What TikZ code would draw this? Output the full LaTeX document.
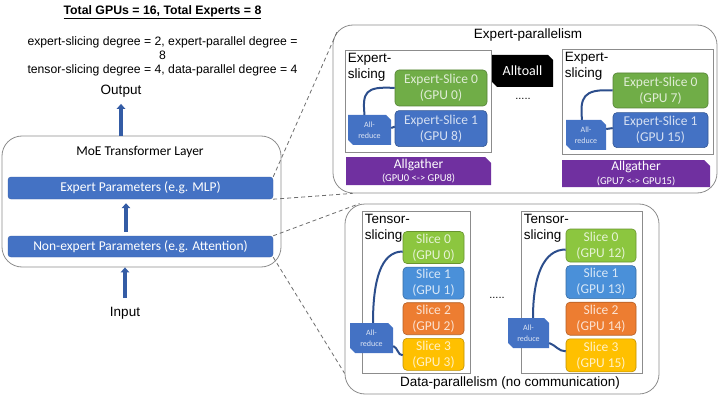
\documentclass[tikz,border=0pt]{standalone}
\usepackage{fontspec}
\setmainfont{Liberation Sans}
\newfontfamily\calibri{Carlito}
\usetikzlibrary{arrows.meta, positioning, calc}

\definecolor{barblue}{RGB}{68,114,196}
\definecolor{arrblue}{RGB}{52,92,165}
\definecolor{ringblue}{RGB}{44,78,140}
\definecolor{boxgray}{RGB}{140,140,140}
\definecolor{dashgray}{RGB}{110,110,110}
\definecolor{exgreen}{RGB}{112,173,71}
\definecolor{slgreen}{RGB}{140,198,63}
\definecolor{slblue}{RGB}{74,144,217}
\definecolor{slorange}{RGB}{237,125,49}
\definecolor{slyellow}{RGB}{255,192,0}
\definecolor{agpurple}{RGB}{112,48,160}

\tikzset{
  lbl/.style={font=\fontsize{13.5}{16}\selectfont, inner sep=1pt},
  grpbox/.style={draw=boxgray, line width=0.8pt, rounded corners=20pt},
  slicebox/.style={draw=boxgray, line width=0.8pt},
  bar/.style={fill=barblue, draw=barblue!85!black, rounded corners=3pt, text=white,
    font=\calibri\fontsize{13.5}{16}\selectfont, minimum width=265, minimum height=22, inner sep=0pt},
  gpu/.style={fill=#1, draw=#1!75!black, line width=0.6pt, text=white!78!#1, rounded corners=4pt,
    align=center, font=\calibri\fontsize{13.5}{16}\selectfont, inner sep=0pt},
  % box with the top right and bottom left corners cut off
  cuttwo/.style={path picture={\fill[#1] (path picture bounding box.north west)
    -- ([xshift=-5pt]path picture bounding box.north east) -- ([yshift=-5pt]path picture bounding box.north east)
    -- (path picture bounding box.south east) -- ([xshift=5pt]path picture bounding box.south west)
    -- ([yshift=5pt]path picture bounding box.south west) -- cycle;}},
  % box with the top right corner cut off
  cutone/.style={path picture={\fill[#1] (path picture bounding box.north west)
    -- ([xshift=-6pt]path picture bounding box.north east) -- ([yshift=-6pt]path picture bounding box.north east)
    -- (path picture bounding box.south east) -- (path picture bounding box.south west) -- cycle;}},
  allred/.style={cuttwo=barblue, text=white!82!barblue, align=center,
    font=\calibri\fontsize{8}{11}\selectfont, inner sep=0pt, minimum width=43, minimum height=30},
  allgat/.style={cutone=agpurple, text=white, align=center,
    font=\calibri\fontsize{10.5}{13.5}\selectfont, inner sep=0pt, minimum height=28},
  ringline/.style={draw=ringblue, line width=2pt},
  uparrow/.style={draw=arrblue, line width=3.3pt, -{Triangle[width=8.5pt,length=5pt]}},
  zoomline/.style={draw=dashgray, line width=0.8pt, dash pattern=on 4pt off 3pt}
}

\begin{document}
\begin{tikzpicture}[x=1pt,y=-1pt]
\useasboundingbox (0,0) rectangle (720,401);

% settings
\node[font=\fontsize{12.3}{14}\selectfont\bfseries] (total) at (162.5,12) {\underline{Total GPUs = 16, Total Experts = 8}};
\node[font=\fontsize{12.2}{14}\selectfont, align=center] (degrees) at (162.5,56) {expert-slicing degree = 2, expert-parallel degree =\\8\\tensor-slicing degree = 4, data-parallel degree = 4};

% MoE layer
\node[grpbox, minimum width=279, minimum height=131] (moe) at (141.5,201.5) {};
\node[font=\calibri\fontsize{13.5}{16}\selectfont] (moetitle) at (140,152) {MoE Transformer Layer};
\node[bar] (expbar) at (140.5,188) {Expert Parameters (e.g. MLP)};
\node[bar, minimum height=21] (nonexp) at (140.5,246.5) {Non-expert Parameters (e.g. Attention)};
\node[lbl] (output) at (121,91) {Output};
\node[lbl] (input) at (125,313) {Input};
\draw[uparrow] (output.south |- moe.north) -- ([yshift=-5.6pt]output.south);
\draw[uparrow, shorten <=4pt, shorten >=4pt] ([xshift=-14.5pt]nonexp.north) -- ([xshift=-14.5pt]expbar.south);
\draw[uparrow] ([yshift=7.6pt]input.north) -- (input.north |- moe.south);

% expert-parallelism
\node[grpbox, minimum width=384, minimum height=168] (ep) at (525,109) {};
\node[lbl] (eptitle) at (528,35) {Expert-parallelism};

\node[slicebox, minimum width=146, minimum height=102] (esL) at (418,101) {};
\node[lbl, anchor=north west, align=left, inner sep=3pt] (esLtxt) at (esL.north west) {Expert-\\slicing};
\node[gpu=exgreen, minimum width=92, minimum height=36] (es0L) at (441,88) {Expert-Slice 0\\(GPU 0)};
\node[gpu=barblue, minimum width=92, minimum height=36, below=4pt of es0L] (es1L) {Expert-Slice 1\\(GPU 8)};
\node[allred] (arL) at (369.5,130) {All-\\reduce};
\draw[ringline] (es0L.west) .. controls +(-30,-2) and +(-2,-22) .. ([xshift=-5pt]arL.north);
\draw[ringline] ([yshift=2pt]arL.east) -- ([yshift=2pt]es1L.west);
\node[allgat, minimum width=145] (agL) at (418.5,171) {{\fontsize{13.5}{13.5}\selectfont Allgather}\\(GPU0 <-> GPU8)};

\node[cuttwo=black, text=white, font=\calibri\fontsize{14}{16}\selectfont, inner sep=0pt,
  minimum width=61, minimum height=32] (a2a) at (522.5,71) {Alltoall};
\node[font=\fontsize{11}{12}\selectfont] (dotsE) at (523,99) {.....};

\node[slicebox, minimum width=151, minimum height=105] (esR) at (637.5,101.5) {};
\node[lbl, anchor=north west, align=left, inner sep=3pt] (esRtxt) at (esR.north west) {Expert-\\slicing};
\node[gpu=exgreen, minimum width=95, minimum height=35] (es0R) at (660.5,90.5) {Expert-Slice 0\\(GPU 7)};
\node[gpu=barblue, minimum width=95, minimum height=35, below=4pt of es0R] (es1R) {Expert-Slice 1\\(GPU 15)};
\node[allred, minimum width=40] (arR) at (586,135) {All-\\reduce};
\draw[ringline] (es0R.west) .. controls +(-30,-2) and +(-2,-22) .. ([xshift=-4pt]arR.north);
\draw[ringline] ([yshift=6pt]arR.east) -- ([yshift=2pt]es1R.west);
\node[allgat, minimum width=148, minimum height=27] (agR) at (636,173.5) {{\fontsize{13.5}{13.5}\selectfont Allgather}\\(GPU7 <-> GPU15)};

% data-parallelism
\node[grpbox, minimum width=314, minimum height=190] (dp) at (502,299) {};
\node[lbl] (dptitle) at (510,383) {Data-parallelism (no communication)};

\node[slicebox, minimum width=108, minimum height=162] (tsL) at (416,292) {};
\node[lbl, anchor=north west, align=left, inner sep=3pt] (tsLtxt) at (tsL.north west) {Tensor-\\slicing};
\node[gpu=slgreen, minimum width=61, minimum height=32] (s0L) at (433.5,247.5) {Slice 0\\(GPU 0)};
\node[gpu=slblue, minimum width=61, minimum height=32, below=3pt of s0L] (s1L) {Slice 1\\(GPU 1)};
\node[gpu=slorange, minimum width=61, minimum height=32, below=3pt of s1L] (s2L) {Slice 2\\(GPU 2)};
\node[gpu=slyellow, minimum width=61, minimum height=32, below=3pt of s2L] (s3L) {Slice 3\\(GPU 3)};
\node[allred] (arTL) at (371.5,338) {All-\\reduce};
\draw[ringline] ([yshift=-4pt]s0L.west) .. controls +(-22,0) and +(0,-42) .. ([xshift=1.5pt]arTL.north);
\draw[ringline] ([yshift=-8pt]arTL.east) to[out=-20,in=180] ([yshift=-1pt]s3L.west);

\node[font=\fontsize{11}{12}\selectfont] (dotsT) at (497,298) {.....};

\node[slicebox, minimum width=121, minimum height=162] (tsR) at (581.5,292) {};
\node[lbl, anchor=north west, align=left, inner sep=3pt] (tsRtxt) at (tsR.north west) {Tensor-\\slicing};
\node[gpu=slgreen, minimum width=70, minimum height=33] (s0R) at (601,245.5) {Slice 0\\(GPU 12)};
\node[gpu=slblue, minimum width=70, minimum height=33, below=3pt of s0R] (s1R) {Slice 1\\(GPU 13)};
\node[gpu=slorange, minimum width=70, minimum height=33, below=3pt of s1R] (s2R) {Slice 2\\(GPU 14)};
\node[gpu=slyellow, minimum width=70, minimum height=33, below=3pt of s2R] (s3R) {Slice 3\\(GPU 15)};
\node[allred, minimum width=41] (arTR) at (528.5,333) {All-\\reduce};
\draw[ringline] ([yshift=-4pt]s0R.west) .. controls +(-22,0) and +(0,-42) .. ([xshift=4.5pt]arTR.north);
\draw[ringline] ([yshift=-10pt]arTR.east) to[out=-20,in=180] ([yshift=4pt]s3R.west);

% zoom lines
\draw[zoomline] (expbar.north east) -- ($(ep.north west)+(5,6)$);
\draw[zoomline] (expbar.south east) -- ($(ep.south west)+(20,0)$);
\draw[zoomline] (nonexp.north east) -- ($(dp.north west)+(15,0)$);
\draw[zoomline] (nonexp.south east) -- ($(dp.south west)+(0,-21)$);
\end{tikzpicture}
\end{document}
